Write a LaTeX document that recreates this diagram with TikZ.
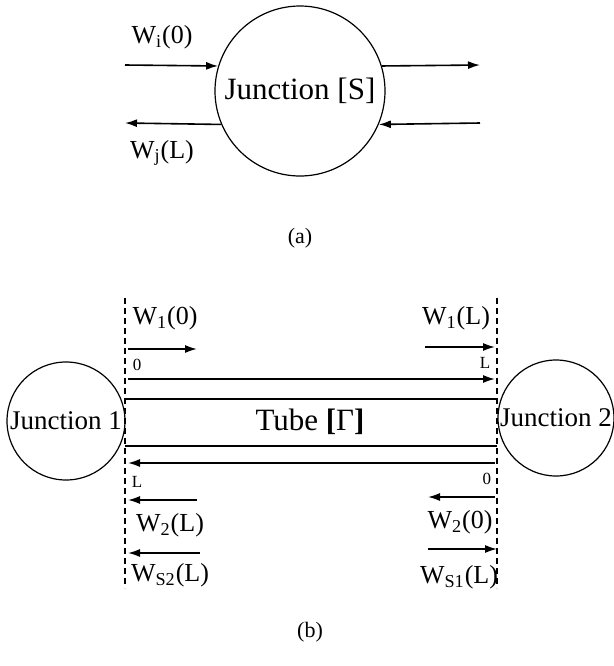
\documentclass[tikz,border=0pt]{standalone}
\usepackage{fontspec}
\setmainfont{Liberation Serif}
\usetikzlibrary{arrows.meta}
\begin{document}
\begin{tikzpicture}[x=0.5pt, y=-0.5pt, line width=0.8pt,
    flow/.style={-{Latex[length=6pt,width=4pt]}},
    junction/.style={draw, circle, inner sep=0pt, line width=0.6pt},
    wlabel/.style={font=\fontsize{13}{15}\selectfont, inner sep=0pt},
    tick/.style={font=\fontsize{8.5}{10}\selectfont, inner sep=0pt},
    border/.style={dash pattern=on 3pt off 2pt, line width=0.7pt},
    caption/.style={font=\fontsize{11}{13}\selectfont}]
  \useasboundingbox (0,0) rectangle (614,666);
  % (a) single junction
  \node[junction, minimum size=85pt, font=\fontsize{15.5}{17}\selectfont] (js) at (300,91) {Junction [S]};
  \coordinate (inL) at (125,65);
  \coordinate (outL) at (125,123);
  \coordinate (outR) at (480,65);
  \coordinate (inR) at (480,123);
  \draw[flow] (inL) -- (js.163);
  \draw[flow] (js.-157) -- (outL);
  \draw[flow] (js.17) -- (outR);
  \draw[flow] (inR) -- (js.-23);
  \node[wlabel] (wi0) at (162,37) {W\textsubscript{i}(0)};
  \node[wlabel] (wjL) at (162,153) {W\textsubscript{j}(L)};
  \node[caption] (capa) at (300,238) {(a)};
  % (b) tube between two junctions
  \coordinate (bl top) at (125,298);
  \coordinate (bl bot) at (125,588);
  \coordinate (br top) at (497,298);
  \coordinate (br bot) at (497,588);
  \draw[border] (bl top) -- (bl bot);
  \draw[border] (br top) -- (br bot);
  \node[junction, minimum size=59pt, font=\fontsize{13.5}{15}\selectfont] (j1) at (66,421) {Junction 1};
  \node[junction, minimum size=58pt, font=\fontsize{13.5}{15}\selectfont] (j2) at (556,418) {Junction 2};
  % Tube walls
  \coordinate (tw1) at (125,399);
  \coordinate (tw2) at (497,399);
  \coordinate (tw3) at (125,446);
  \coordinate (tw4) at (497,446);
  \draw (tw1) -- (tw2);
  \draw (tw3) -- (tw4);
  \node[font=\fontsize{15.5}{17}\selectfont] (tube) at (310,422) {Tube \textbf{[}Γ\textbf{]}};
  % Long arrows
  \coordinate (fw0) at (128,379);
  \coordinate (fwL) at (495,379);
  \coordinate (bw0) at (495,463);
  \coordinate (bwL) at (128,463);
  \draw[flow] (fw0) -- (fwL);
  \draw[flow] (bw0) -- (bwL);
  \node[tick] (t0) at (137,365) {0};
  \node[tick] (tL) at (485,363) {L};
  \node[tick] (bL) at (137,482) {L};
  \node[tick] (b0) at (487,479) {0};
  % Short arrows, left side
  \coordinate (a1s) at (128,349);
  \coordinate (a1e) at (197,349);
  \coordinate (a2s) at (197,500);
  \coordinate (a2e) at (128,500);
  \coordinate (a3s) at (200,553);
  \coordinate (a3e) at (128,553);
  \draw[flow] (a1s) -- (a1e);
  \draw[flow] (a2s) -- (a2e);
  \draw[flow] (a3s) -- (a3e);
  \node[wlabel] (w10) at (165,318) {W\textsubscript{1}(0)};
  \node[wlabel] (w2L) at (170,525) {W\textsubscript{2}(L)};
  \node[wlabel] (ws2) at (170,575) {W\textsubscript{S2}(L)};
  % Short arrows, right side
  \coordinate (b1s) at (425,347);
  \coordinate (b1e) at (495,347);
  \coordinate (b2s) at (495,497);
  \coordinate (b2e) at (428,497);
  \coordinate (b3s) at (428,549);
  \coordinate (b3e) at (497,549);
  \draw[flow] (b1s) -- (b1e);
  \draw[flow] (b2s) -- (b2e);
  \draw[flow] (b3s) -- (b3e);
  \node[wlabel] (w1L) at (456,318) {W\textsubscript{1}(L)};
  \node[wlabel] (w20) at (460,522) {W\textsubscript{2}(0)};
  \node[wlabel] (ws1) at (459,577) {W\textsubscript{S1}(L)};
  \node[caption] (capb) at (310,632) {(b)};
\end{tikzpicture}
\end{document}
